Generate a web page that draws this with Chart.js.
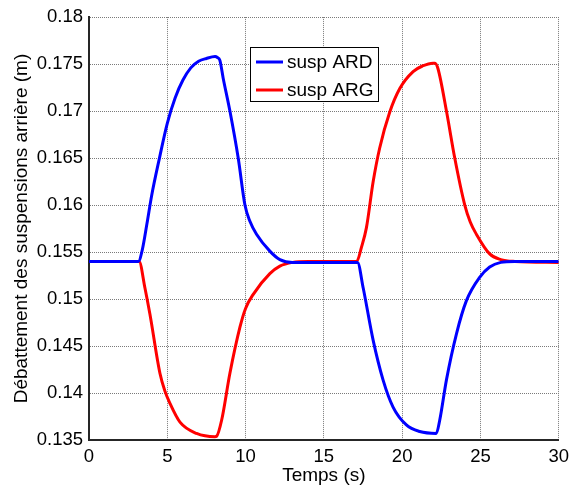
<!DOCTYPE html>
<html>
<head>
<meta charset="utf-8">
<script src="https://cdn.jsdelivr.net/npm/chart.js@4.4.1/dist/chart.umd.min.js"></script>
<style>
  body { margin: 0; background: #fff; }
  canvas { display: block; }
</style>
</head>
<body>
<canvas id="chart" width="575" height="489"></canvas>
<script>
// susp ARD (blue)
const ardTime = [0, 3.15, 3.4, 3.7, 4.0, 4.5, 5.0, 5.5, 6.0, 6.5, 7.0, 7.5, 8.05, 8.2, 8.36, 8.57, 9.0, 9.53, 9.96, 10.27, 10.7, 11.55, 12.19, 13.0, 14.0, 17.15, 17.51, 18.15, 18.78, 19.42, 20.27, 21.12, 22.18, 22.4, 22.83, 23.47, 24.1, 24.95, 25.59, 26.3, 27.2, 30];
const ardValues = [0.154, 0.154, 0.1552, 0.1580, 0.1610, 0.1650, 0.1687, 0.1714, 0.1733, 0.1746, 0.1753, 0.1756, 0.1758, 0.1757, 0.1754, 0.1735, 0.170, 0.165, 0.160, 0.1583, 0.1569, 0.1551, 0.1542, 0.1539, 0.1539, 0.1539, 0.1512, 0.1456, 0.1414, 0.1385, 0.1366, 0.1359, 0.1357, 0.1371, 0.1414, 0.1463, 0.1498, 0.1523, 0.1534, 0.1539, 0.1540, 0.1540];

// susp ARG (red)
const argTime = [0, 3.2, 3.57, 3.89, 4.53, 4.85, 5.17, 5.81, 6.87, 8.04, 8.15, 8.47, 9.0, 9.64, 10.0, 10.49, 11.55, 12.19, 13.0, 14.0, 17.1, 17.4, 17.72, 18.15, 18.57, 19.21, 19.85, 20.7, 21.3, 21.97, 22.1, 22.29, 22.83, 23.36, 24.0, 24.35, 24.74, 25.59, 26.3, 27.2, 30];
const argValues = [0.154, 0.154, 0.1512, 0.1484, 0.1421, 0.1402, 0.1389, 0.1369, 0.1357, 0.13535, 0.1354, 0.1371, 0.1421, 0.1470, 0.1490, 0.1505, 0.1527, 0.1535, 0.1539, 0.1540, 0.1540, 0.1555, 0.1576, 0.1625, 0.1661, 0.1699, 0.1724, 0.1742, 0.1748, 0.1751, 0.1751, 0.1745, 0.170, 0.165, 0.160, 0.1582, 0.1569, 0.1548, 0.1542, 0.1540, 0.1539];

const seriesLabels = ["susp ARD", "susp ARG"];
const seriesColors = ["#0000ff", "#ff0000"];

const toPoints = (xs, ys) => xs.map((x, i) => ({ x: x, y: ys[i] }));

const FONT = "'Liberation Sans', Arial, sans-serif";

// legend box drawn inside the plot, like the matlab one
const boxLegend = {
  id: "boxLegend",
  afterDraw(chart) {
    const ctx = chart.ctx;
    const x0 = 250, y0 = 47, w = 128, h = 54;
    ctx.save();
    ctx.fillStyle = "#fff";
    ctx.fillRect(x0, y0, w, h);
    ctx.strokeStyle = "#000";
    ctx.lineWidth = 1;
    ctx.strokeRect(x0 + 0.5, y0 + 0.5, w, h);
    ctx.font = "19px " + FONT;
    ctx.textBaseline = "middle";
    chart.data.datasets.forEach((ds, i) => {
      const y = y0 + 15 + i * 28;
      ctx.strokeStyle = ds.borderColor;
      ctx.lineWidth = 3;
      ctx.beginPath();
      ctx.moveTo(x0 + 6, y);
      ctx.lineTo(x0 + 33, y);
      ctx.stroke();
      ctx.fillStyle = "#000";
      ctx.fillText(ds.label, x0 + 37, y + 1);
    });
    ctx.restore();
  }
};

new Chart(document.getElementById("chart"), {
  type: "line",
  data: {
    datasets: [
      {
        label: seriesLabels[0],
        data: toPoints(ardTime, ardValues),
        borderColor: seriesColors[0],
        borderWidth: 3,
        pointRadius: 0,
        cubicInterpolationMode: "monotone"
      },
      {
        label: seriesLabels[1],
        data: toPoints(argTime, argValues),
        borderColor: seriesColors[1],
        borderWidth: 3,
        pointRadius: 0,
        cubicInterpolationMode: "monotone"
      }
    ]
  },
  options: {
    responsive: false,
    animation: false,
    devicePixelRatio: 1,
    layout: { padding: { left: 0, right: 16, top: 15, bottom: 0 } },
    plugins: {
      legend: { display: false },
      tooltip: { enabled: false }
    },
    scales: {
      x: {
        type: "linear",
        min: 0,
        max: 30,
        ticks: {
          stepSize: 5,
          color: "#000",
          padding: 6,
          maxRotation: 0,
          font: { family: FONT, size: 18.5 }
        },
        grid: { color: "#7a7a7a", lineWidth: 1, drawTicks: false },
        border: { display: true, color: "#262626", width: 2, dash: [1, 1] },
        title: {
          display: true,
          text: "Temps (s)",
          color: "#000",
          font: { family: FONT, size: 19 },
          padding: { top: 0, bottom: 2 }
        },
        afterFit(scale) { scale.height = 49; }
      },
      y: {
        min: 0.135,
        max: 0.18,
        ticks: {
          stepSize: 0.005,
          color: "#000",
          padding: 6,
          font: { family: FONT, size: 18.5 },
          callback: v => String(parseFloat(v.toFixed(3)))
        },
        grid: { color: "#7a7a7a", lineWidth: 1, drawTicks: false },
        border: { display: true, color: "#262626", width: 2, dash: [1, 1] },
        title: {
          display: true,
          text: "Débattement des suspensions arrière (m)",
          color: "#000",
          font: { family: FONT, size: 19 },
          padding: { top: 10, bottom: 0 }
        },
        afterFit(scale) { scale.width = 89; }
      }
    }
  },
  plugins: [boxLegend]
});
</script>
</body>
</html>
